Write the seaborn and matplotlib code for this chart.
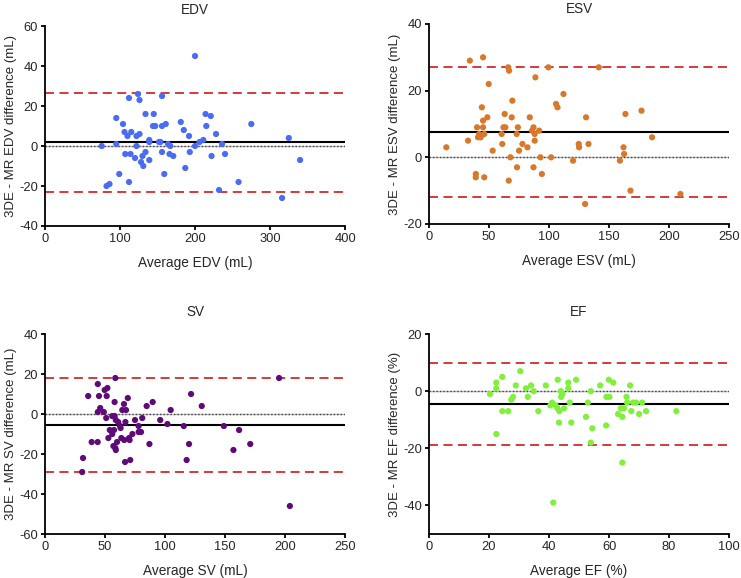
import numpy as np
import pandas as pd
import matplotlib
matplotlib.use('Agg')
import matplotlib.pyplot as plt
import seaborn as sns

sns.set_style('ticks')
plt.rcParams['font.family'] = ['Liberation Sans', 'DejaVu Sans']
plt.rcParams['axes.unicode_minus'] = False

# EDV
edv_avg = [75.6, 82, 86, 95, 95, 99, 104, 106, 107, 110, 112, 112, 114, 115, 120, 122, 122, 124,
           126, 126, 128, 130, 131, 134, 134, 139, 139, 139, 144, 145, 147, 152, 154, 156, 156, 156,
           159, 161, 164, 166, 167, 171, 181, 185, 187, 192, 193, 200, 200, 206, 211, 214, 215, 221,
           222, 228, 232, 236, 240, 258, 275, 316, 325, 340]
edv_diff = [0, -20, -19, 14, 1, -14, 11, 7, -4, 5, 24, -18, -4, 7, -6, 5, 0, 26,
            6, 23, -8, -5, -10, 16, -3, 3, 2, -7, 10, 16, 10, 2, 2, 10, 25, -3,
            -14, 11, 1, -4, 0, -5, 12, 8, -11, 5, -3, 45, 0, 2, 3, 16, 10, 15,
            -5, 6, -22, 1, -4, -18, 11, -26, 4, -7]
edv_lines = [2.0, 26.7, -23.0]

# ESV
esv_avg = [14.4, 32.5, 34, 45, 40, 40.8, 41.7, 42.5, 43, 44, 45, 45, 46, 39, 38.9, 46, 48.6, 49.7,
           53, 60.5, 61, 62, 63, 63.6, 66, 66.7, 66.4, 67.8, 68.9, 69.4, 73, 73.3, 74, 75, 77.8, 82,
           83.9, 85.8, 87, 87, 88, 88, 88.6, 91.7, 92.8, 94, 99.4, 101.7, 105.8, 107, 112, 120,
           124.7, 125, 130, 130.8, 132.8, 141.4, 159, 162, 162.5, 163.6, 167.8, 177, 185.8, 209.4]
esv_diff = [3, 5, 29, 30, 9, 6, 7, 6.5, 6, 15, 11, 9, 7, -5, -6, -6, 12, 22,
            2, 7, 4, 9, 13, 9, 27, 26, -7, 0, 12, 17, 7, -3, 9, 2, 4, 3,
            12, 8, 9, -3, 5, 7, 24, 8, 0, -5, 27, 0, 16, 15, 19, -1,
            4, 3, -14, 12, 4, 27, -1, 3, 1, 13, -10, 14, 6, -11]
esv_lines = [7.6, 27.0, -12.0]

# SV
sv_avg = [31, 31.7, 36, 38.9, 43.9, 44, 44, 45, 46, 49, 49.7, 51, 51.4, 52, 52.8, 54, 56, 56,
          57, 57.5, 58, 58, 58.6, 58.6, 59, 59, 60, 61, 62.5, 63, 63.6, 64.4, 65.8, 66, 66.7, 67,
          67.5, 69, 70, 70.5, 71, 72.8, 75, 78, 78, 80, 81, 84.7, 87, 89.7, 96, 102, 104.7,
          115.6, 118, 120, 121.7, 130.6, 149, 157, 161.7, 171, 195, 204]
sv_diff = [-29, -22, 9, -14, -14, 15, 1, 9, 3, 1, 12, -2, 9, 13, -12, -8, -10, -1,
           -16, -8, -1, 6, 18, -17, -18, -3, -14, -4, -6, -7, -12, 2, 5, -13, -24, -4,
           2, 8, -12, -13, -23, -10, -3, -6, -9, -9, -2, 4, -15, 6, -3, -5, 2,
           -6, -23, -15, 10, 4, -6, -18, -8, -15, 18, -46]
sv_lines = [-5.5, 17.8, -29.0]

# EF
ef_avg = [20.3, 22.4, 22.4, 22.4, 24.4, 24.4, 26.4, 27.4, 28, 28.9, 30.4, 32.3, 32.9, 34, 34.9,
          36.4, 38.9, 40.4, 41, 41.4, 42.2, 42.9, 42.8, 43.3, 43.4, 43.9, 44, 44.4, 45, 46.4, 46.4,
          46.9, 47.4, 49, 52.3, 52.9, 53.9, 53.9, 54.4, 57, 59, 59.1, 59.9, 60.1, 61.4, 63, 63.9,
          64.4, 64.4, 65, 65.8, 66, 67, 67.4, 68, 69, 70, 71, 72.3, 82.4]
ef_diff = [-1, 3, 1, -15, 5, -7, -7, -3, -2, 2, 7, 1, -2, 2, 0,
           -7, 2, -5, -4, -39, -5, 4, -6, -11, -7, 0, -2, -1, -6, 1, 3,
           -4, -11, 4, -9, -4, 0, -18, -13, 2, -12, -2, 4, -2, 3, -8, -6,
           -9, -25, -6, -2, -4, 2, -7, -4, -4, -8, -4, -7, -7]
ef_lines = [-4.5, 9.8, -18.8]

panels = [
    ('EDV', edv_avg, edv_diff, edv_lines, '#4a6cf5', 'Average EDV (mL)', '3DE - MR EDV difference (mL)',
     (0, 400), [0, 100, 200, 300, 400], (-40, 60), [-40, -20, 0, 20, 40, 60], [0.0607, 0.609, 0.405, 0.346], 9),
    ('ESV', esv_avg, esv_diff, esv_lines, '#d9782a', 'Average ESV (mL)', '3DE - MR ESV difference (mL)',
     (0, 250), [0, 50, 100, 150, 200, 250], (-20, 40), [-20, 0, 20, 40], [0.579, 0.6125, 0.405, 0.346], 8),
    ('SV', sv_avg, sv_diff, sv_lines, '#5e0a78', 'Average SV (mL)', '3DE - MR SV difference (mL)',
     (0, 250), [0, 50, 100, 150, 200, 250], (-60, 40), [-60, -40, -20, 0, 20, 40], [0.0607, 0.0761, 0.405, 0.346], 13),
    ('EF', ef_avg, ef_diff, ef_lines, '#80f03a', 'Average EF (%)', '3DE - MR EF difference (%)',
     (0, 100), [0, 20, 40, 60, 80, 100], (-50, 20), [-40, -20, 0, 20], [0.579, 0.0761, 0.405, 0.346], 13),
]

fig = plt.figure(figsize=(7.41, 5.78), dpi=100)

for title, xs, ys, lines, col, xlab, ylab, xlim, xticks, ylim, yticks, pos, tpad in panels:
    ax = fig.add_axes(pos)
    data = pd.DataFrame({'avg': xs, 'diff': ys})
    ax.axhline(0, color='#b8b8b8', lw=1.0, zorder=1)
    ax.axhline(0, color='#444444', lw=1.0, ls=(0, (1, 1.5)), zorder=1)
    ax.axhline(lines[0], color='black', lw=1.5, zorder=2)
    ax.axhline(lines[1], color='#d62a2a', lw=1.3, ls=(0, (5, 3)), zorder=2)
    ax.axhline(lines[2], color='#d62a2a', lw=1.3, ls=(0, (5, 3)), zorder=2)
    sns.scatterplot(x='avg', y='diff', data=data, ax=ax, color=col, s=20, edgecolor='none', zorder=3)
    ax.set_xlim(xlim)
    ax.set_ylim(ylim)
    ax.set_xticks(xticks)
    ax.set_yticks(yticks)
    ax.set_xlabel(xlab, fontsize=9.8, labelpad=8)
    ax.set_ylabel(ylab, fontsize=9.5, labelpad=1.5)
    ax.set_title(title, fontsize=9.8, pad=tpad)
    sns.despine(ax=ax)
    for s in ['left', 'bottom']:
        ax.spines[s].set_linewidth(1.3)
        ax.spines[s].set_color('black')
    ax.tick_params(labelsize=9.3, width=1.3, length=3, pad=2, color='black')

plt.savefig('out.png', dpi=100)
